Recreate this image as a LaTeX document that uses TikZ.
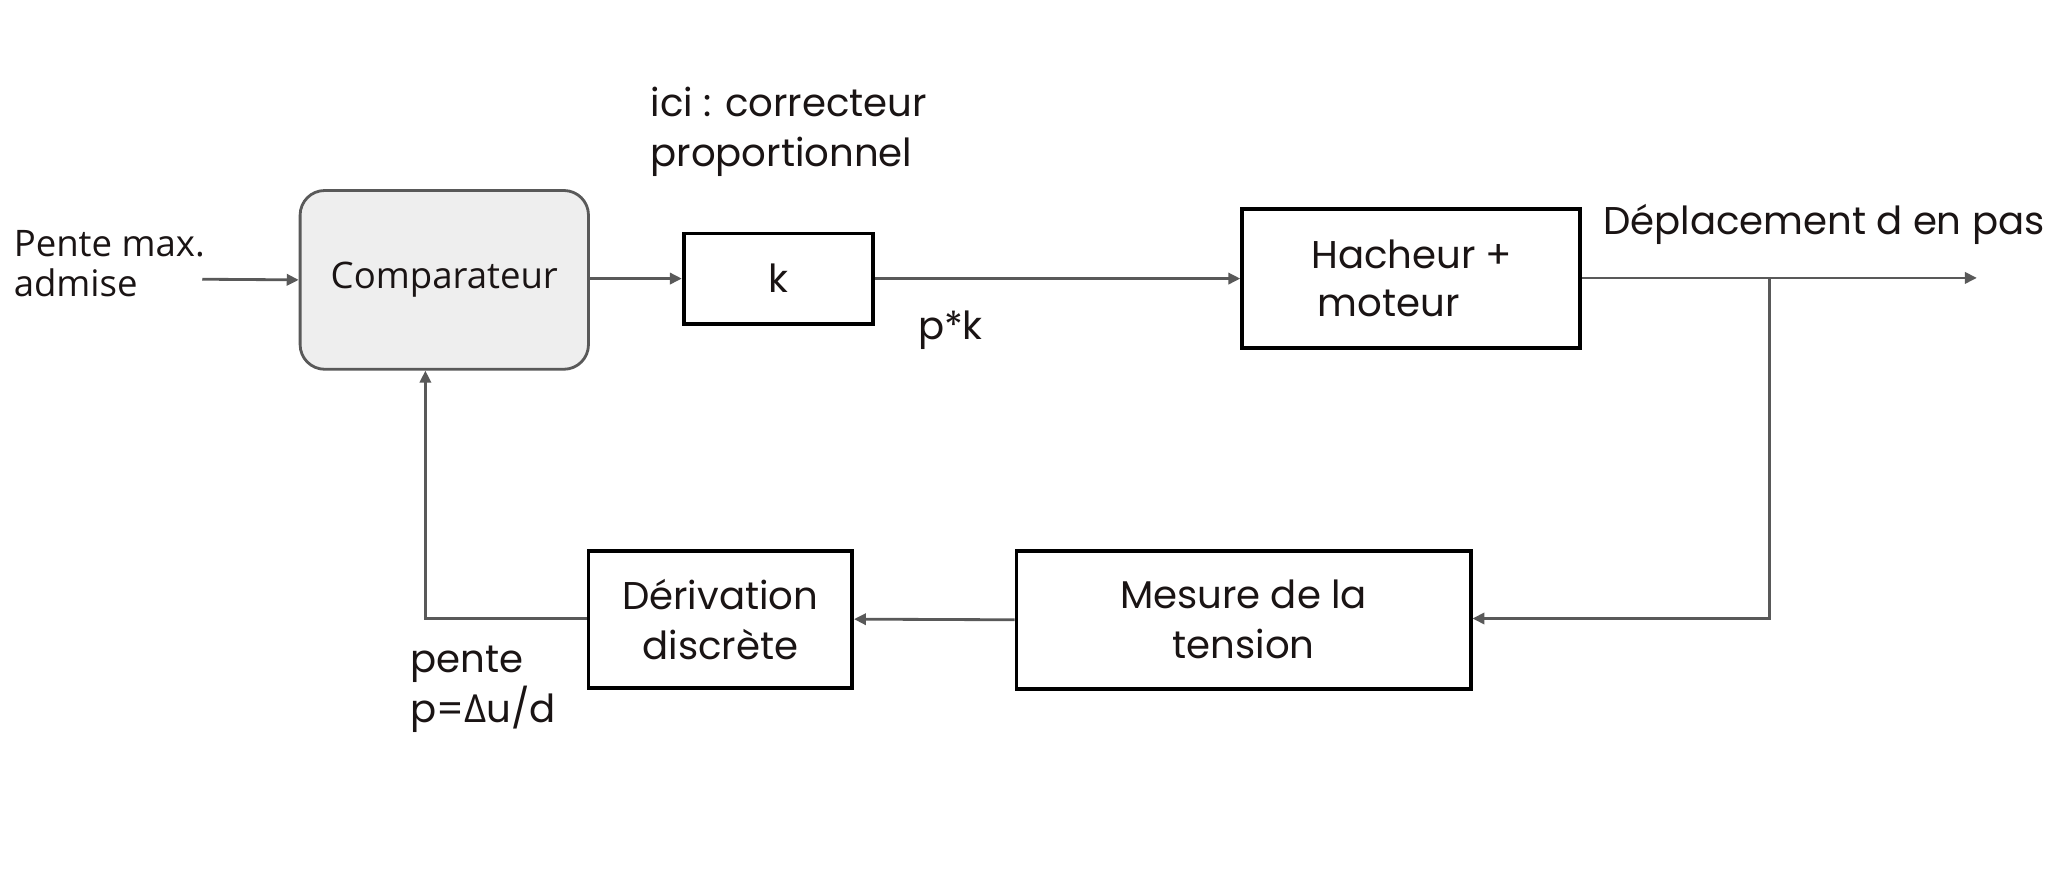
\documentclass[tikz,border=0pt]{standalone}
\usepackage{fontspec}
\setmainfont{Poppins}
\newfontfamily\opensans{Open Sans}
\newfontfamily\popfont{Poppins}
\usetikzlibrary{arrows.meta}
\definecolor{linegray}{HTML}{595959}
\definecolor{boxfill}{HTML}{EEEEEE}
\definecolor{txt}{HTML}{1A1414}
\tikzset{
  x=0.013048cm, y=-0.013048cm,
  conn/.style={draw=linegray, line width=0.8pt, -{Triangle[length=3.4pt,width=3.2pt]}},
  blk/.style={draw=black, line width=1.1pt, inner sep=0pt, text=txt,
     font=\popfont\fontsize{11}{14.2}\selectfont, align=center},
  lbl/.style={inner sep=0pt, text=txt, font=\popfont\fontsize{11}{14.2}\selectfont, align=left},
}
\begin{document}
\begin{tikzpicture}
\useasboundingbox (0,0) rectangle (1568,681);
\fill[white] (0,0) rectangle (1568,681);
\begin{scope}
\clip (0,0) rectangle (1568,681);
% nodes
\node[draw=linegray, fill=boxfill, line width=0.8pt, rounded corners=7pt,
      minimum width=221*0.013048cm, minimum height=137*0.013048cm,
      text=txt, font=\opensans\fontsize{10.4}{12}\selectfont] (comp) at (340.5,214.5) {Comparateur};
\node[blk, minimum width=145*0.013048cm, minimum height=69*0.013048cm] (k) at (596.5,213.5) {k};
\node[blk, minimum width=259*0.013048cm, minimum height=107*0.013048cm] (hm) at (1081.5,213.5) {};
\node[lbl] (hmt) at (1082,213.5) {Hacheur +\\[-0.5pt]\,moteur};
\node[blk, minimum width=348*0.013048cm, minimum height=106*0.013048cm] (mes) at (953,475) {Mesure de la\\tension};
\node[blk, minimum width=202*0.013048cm, minimum height=105*0.013048cm] (der) at (552,474.5) {Dérivation\\discrète};
% labels
\node[inner sep=0pt, anchor=west, text=txt, align=left, font=\opensans\fontsize{10.4}{11.6}\selectfont] (pm) at (10,202) {Pente max.\\admise};
\node[lbl, anchor=west] (ici) at (498,101) {ici : correcteur\\proportionnel};
\node[lbl, anchor=west] (pk) at (703,253) {p*k};
\node[lbl, anchor=west] (dep) at (1228,172) {Déplacement d en pas};
\node[lbl, anchor=west] (pen) at (314,528) {pente\\p={\opensans Δ}u/d};
% coordinates
\coordinate (in) at (155,214);
\coordinate (out) at (1515,213);
\coordinate (br) at (1356,213);
\coordinate (brd) at (1356,474);
\coordinate (fbc) at (326,474);
% connectors
\draw[conn] (in) -- (comp.west);
\draw[conn] (comp.east |- 0,213.5) -- (k.west);
\draw[conn] (k.east) -- (hm.west);
\draw[conn] (hm.east |- out) -- (out);
\draw[conn] (br) -- (brd) -- (mes.east |- brd);
\draw[conn] (mes.west) -- (der.east);
\draw[conn] (der.west |- fbc) -- (fbc) -- (comp.south -| fbc);
\end{scope}
\end{tikzpicture}
\end{document}
